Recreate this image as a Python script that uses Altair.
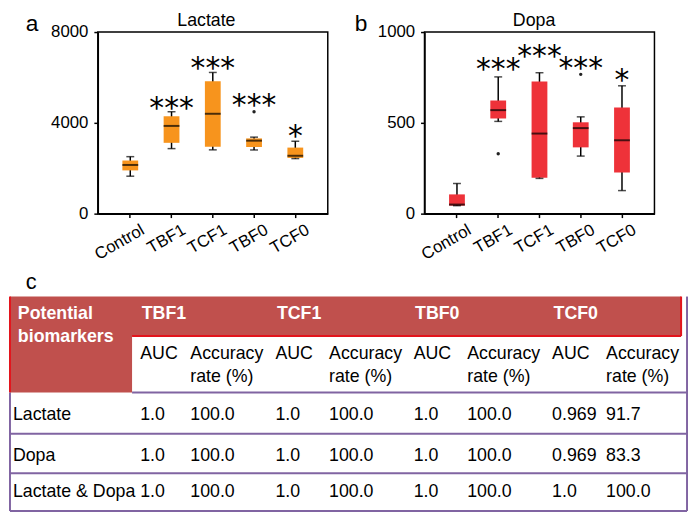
import altair as alt
import pandas as pd

# ---------------- data ----------------
categories = ["Control", "TBF1", "TCF1", "TBF0", "TCF0"]

lactate_min = [1650, 2865, 2810, 2805, 2425]
lactate_q1 = [1905, 3120, 2950, 2935, 2455]
lactate_median = [2145, 3865, 4400, 3215, 2550]
lactate_q3 = [2340, 4290, 5830, 3315, 2910]
lactate_max = [2510, 4490, 6220, 3370, 3190]
lactate_outlier_group = ["TBF0"]
lactate_outlier_value = [4490]
lactate_stars = ["", "***", "***", "***", "*"]
lactate_star_level = [0, 5000, 6750, 5150, 3750]
lactate_ticks = [0, 4000, 8000]

dopa_min = [44, 508, 194, 317, 127]
dopa_q1 = [44, 524, 198, 365, 226]
dopa_median = [50, 570, 441, 471, 404]
dopa_q3 = [106, 623, 728, 503, 584]
dopa_max = [166, 753, 776, 533, 704]
dopa_outlier_group = ["TBF1", "TBF0"]
dopa_outlier_value = [330, 767]
dopa_stars = ["", "***", "***", "***", "*"]
dopa_star_level = [0, 838, 912, 847, 776]
dopa_ticks = [0, 500, 1000]

table_groups = ["TBF1", "TCF1", "TBF0", "TCF0"]
table_biomarkers = ["Lactate", "Dopa", "Lactate & Dopa"]
table_auc = [["1.0", "1.0", "1.0", "0.969"],
             ["1.0", "1.0", "1.0", "0.969"],
             ["1.0", "1.0", "1.0", "1.0"]]
table_accuracy = [["100.0", "100.0", "100.0", "91.7"],
                  ["100.0", "100.0", "100.0", "83.3"],
                  ["100.0", "100.0", "100.0", "100.0"]]

# ---------------- layout / style ----------------
FONT = "Liberation Sans"
PW, PH = 233, 184
GAP = 98
OX, OY = 97, 28      # page position of panel a plot area
ORANGE = "#F7941D"
RED = "#EE3239"
HDR = "#C0504D"
REDLINE = "#E3141C"
PURPLE = "#8064A2"


def panel(mins, q1, med, q3, maxs, og, ov, stars, slev, color, ymax, yticks,
          title, letter, title_x, letter_x):
    df = pd.DataFrame(dict(cat=categories, lo=mins, q1=q1, med=med, q3=q3, hi=maxs))
    xenc = alt.X("cat:N", sort=categories,
                 scale=alt.Scale(paddingInner=0.5, paddingOuter=0.537),
                 axis=alt.Axis(title=None, labelAngle=-30, labelAlign="right",
                               labelBaseline="top", labelOffset=9, labelPadding=4,
                               tickSize=4))
    ysc = alt.Scale(domain=[0, ymax], nice=False, zero=True)
    yax = alt.Axis(title=None, values=yticks, grid=False, tickSize=4, labelPadding=6,
                   format="d")

    def ye(f):
        return alt.Y(f, type="quantitative", scale=ysc, axis=yax)

    base = alt.Chart(df)
    whisk = base.mark_rule(color="black", strokeWidth=1.5).encode(x=xenc, y=ye("lo"), y2="hi")
    cap_lo = base.mark_tick(color="black", size=8, thickness=1.5).encode(x=xenc, y=ye("lo"))
    cap_hi = base.mark_tick(color="black", size=8, thickness=1.5).encode(x=xenc, y=ye("hi"))
    box = base.mark_bar(size=16, color=color).encode(x=xenc, y=ye("q1"), y2="q3")
    medt = base.mark_tick(color="black", size=16, thickness=2).encode(x=xenc, y=ye("med"))

    odf = pd.DataFrame(dict(cat=og, v=ov))
    outl = alt.Chart(odf).mark_point(shape="circle", size=12, filled=True,
                                     color="#222222", opacity=1).encode(x=xenc, y=ye("v"))

    sdf = pd.DataFrame([dict(cat=c, v=v, t=t) for c, v, t in zip(categories, slev, stars) if t])
    st = alt.Chart(sdf).mark_text(font="DejaVu Sans", fontSize=30, baseline="alphabetic",
                                  dy=18, color="black").encode(x=xenc, y=ye("v"), text="t:N")

    tdf = pd.DataFrame(dict(t=[title]))
    tt = alt.Chart(tdf).mark_text(font=FONT, fontSize=18, baseline="alphabetic",
                                  align="center", color="black").encode(
        x=alt.value(title_x), y=alt.value(-6), text="t:N")
    ldf = pd.DataFrame(dict(t=[letter]))
    lt = alt.Chart(ldf).mark_text(font=FONT, fontSize=23, baseline="alphabetic",
                                  align="left", color="black").encode(
        x=alt.value(letter_x), y=alt.value(-1), text="t:N")
    return alt.layer(whisk, box, cap_lo, cap_hi, medt, outl, st, tt, lt)


# ---------------- table (drawn in page units) ----------------
XL, XS, XR, XP = 8, 131.7, 688, 694
Y0, Y1, Y2 = 296, 336, 393.3
ROWLINES = [435, 475, 513.3]
AUC_X = [140, 277, 417, 557.3]
ACC_X = [190.7, 331.3, 471.3, 612]
ROW_Y = [415.7, 457.3, 494.3]

tx = alt.Scale(domain=[0, 697], range=[-OX, 697 - OX], nice=False, zero=False)
ty = alt.Scale(domain=[0, 519], range=[-OY, 519 - OY], nice=False, zero=False)


def TX(f):
    return alt.X(f, type="quantitative", scale=tx, axis=None)


def TYe(f):
    return alt.Y(f, type="quantitative", scale=ty, axis=None)


rect_df = pd.DataFrame(dict(x=[XL, XL], x2=[XR, XS], y=[Y0, Y1], y2=[Y1, Y2]))
rects = alt.Chart(rect_df).mark_rect(color=HDR).encode(x=TX("x"), x2="x2", y=TYe("y"), y2="y2")

line_rows = [
    dict(x=XL, x2=XL, y=Y0, y2=Y2, c=REDLINE),
    dict(x=XS, x2=XR, y=Y1, y2=Y1, c=REDLINE),
    dict(x=XR, x2=XR, y=Y0, y2=Y1, c=REDLINE),
    dict(x=XS, x2=XP, y=Y2, y2=Y2, c=PURPLE),
    dict(x=XL, x2=XL, y=Y2, y2=ROWLINES[-1], c=PURPLE),
    dict(x=XP, x2=XP, y=Y0, y2=ROWLINES[-1], c=PURPLE),
]
for yl in ROWLINES:
    line_rows.append(dict(x=XL, x2=XP, y=yl, y2=yl, c=PURPLE))
line_df = pd.DataFrame(line_rows)
lines = alt.Chart(line_df).mark_rule(strokeWidth=2).encode(
    x=TX("x"), x2="x2", y=TYe("y"), y2="y2", color=alt.Color("c:N", scale=None))

hdr_rows = [dict(x=16, y=313.3, t="Potential"), dict(x=16, y=336.7, t="biomarkers")]
for g, gx in zip(table_groups, AUC_X):
    hdr_rows.append(dict(x=gx + 1.5, y=313.3, t=g))
hdr_txt = alt.Chart(pd.DataFrame(hdr_rows)).mark_text(
    font=FONT, fontSize=18, fontWeight="bold", color="white", align="left", baseline="middle"
).encode(x=TX("x"), y=TYe("y"), text="t:N")

body_rows = []
for ax_, cx in zip(AUC_X, ACC_X):
    body_rows.append(dict(x=ax_, y=354, t="AUC"))
    body_rows.append(dict(x=cx, y=354, t="Accuracy"))
    body_rows.append(dict(x=cx, y=377.3, t="rate (%)"))
for name, ry, aucs, accs in zip(table_biomarkers, ROW_Y, table_auc, table_accuracy):
    body_rows.append(dict(x=11, y=ry, t=name))
    for a, c, ax_, cx in zip(aucs, accs, AUC_X, ACC_X):
        body_rows.append(dict(x=ax_, y=ry, t=a))
        body_rows.append(dict(x=cx, y=ry, t=c))
body_txt = alt.Chart(pd.DataFrame(body_rows)).mark_text(
    font=FONT, fontSize=18, color="black", align="left", baseline="middle"
).encode(x=TX("x"), y=TYe("y"), text="t:N")

c_txt = alt.Chart(pd.DataFrame(dict(x=[24], y=[288.3], t=["c"]))).mark_text(
    font=FONT, fontSize=22, color="black", align="left", baseline="alphabetic"
).encode(x=TX("x"), y=TYe("y"), text="t:N")

table = alt.layer(rects, lines, hdr_txt, body_txt, c_txt)

# ---------------- panels ----------------
pa = panel(lactate_min, lactate_q1, lactate_median, lactate_q3, lactate_max,
           lactate_outlier_group, lactate_outlier_value, lactate_stars, lactate_star_level,
           ORANGE, 8000, lactate_ticks, "Lactate", "a", 110, 24 - OX)
pb = panel(dopa_min, dopa_q1, dopa_median, dopa_q3, dopa_max,
           dopa_outlier_group, dopa_outlier_value, dopa_stars, dopa_star_level,
           RED, 1000, dopa_ticks, "Dopa", "b", 111, 357.3 - 428)

panel_a = alt.layer(pa, table).resolve_scale(x="independent", y="independent").properties(
    width=PW, height=PH)
panel_b = pb.properties(width=PW, height=PH)

chart = alt.hconcat(panel_a, panel_b, spacing=GAP, bounds="flush").properties(
    padding=0, background="white"
).configure_view(stroke="black", strokeWidth=1.5).configure_axis(
    labelFont=FONT, labelFontSize=17, labelColor="black", tickColor="black",
    domainColor="black", domainWidth=1.5, tickWidth=1.5
)

chart.save("out.html", embed_options={"renderer": "svg", "actions": False})
